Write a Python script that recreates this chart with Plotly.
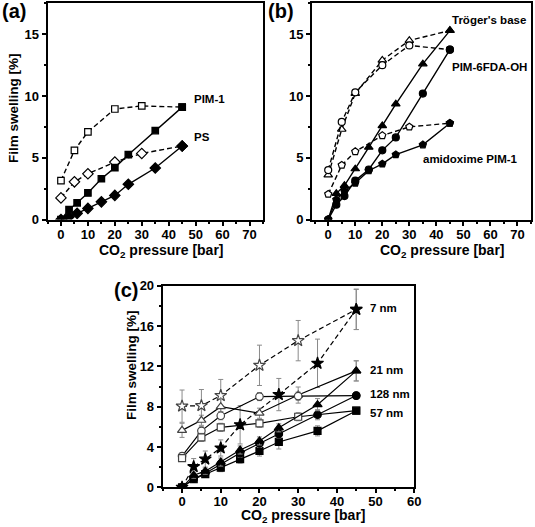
import plotly.graph_objects as go

# ---------------- data ----------------
# panel (a)
a_x_solid = [0, 3, 6, 10, 15, 20, 25, 35, 45]
a_pim1_solid = [0, 0.8, 1.35, 2.15, 3.3, 4.2, 5.25, 7.2, 9.1]
a_ps_solid = [0, 0.22, 0.5, 0.9, 1.43, 1.95, 2.85, 4.17, 5.95]
a_x_open = [0, 5, 10, 20, 30, 45]
a_pim1_open = [3.15, 5.6, 7.1, 8.95, 9.2, 9.1]
a_ps_open = [1.75, 3.05, 3.7, 4.65, 5.35, 5.95]

# panel (b)
b_x_solid = [0, 3, 6, 10, 15, 20, 25, 35, 45]
b_tb_solid = [0, 2.1, 2.75, 4.1, 5.85, 7.6, 9.35, 12.6, 15.3]
b_6fda_solid = [0, 1.2, 1.9, 3.15, 4.05, 5.6, 6.65, 10.2, 13.75]
b_amid_solid = [0, 1.6, 2.3, 2.95, 3.95, 4.5, 5.25, 6.05, 7.8]
b_x_open = [0, 5, 10, 20, 30, 45]
b_tb_open = [3.6, 7.3, 10.2, 12.9, 14.5, 15.3]
b_6fda_open = [4.0, 7.9, 10.3, 12.5, 14.1, 13.75]
b_amid_open = [2.05, 4.4, 5.5, 6.8, 7.5, 7.8]

# panel (c)
c_x_solid = [0, 3, 6, 10, 15, 20, 25, 35, 45]
c_x_open = [0, 5, 10, 20, 30, 45]
c_7_solid = [0, 2.05, 2.8, 3.9, 6.2, 9.2, 12.3, 17.65]
c_7_solid_x = [0, 3, 6, 10, 15, 25, 35, 45]
c_7_solid_err = [0, 0.8, 0.8, 0.8, 1.9, 1.6, 2.4, 2.0]
c_7_open = [8.05, 8.1, 9.1, 12.1, 14.55, 17.65]
c_7_open_err = [1.6, 1.6, 1.6, 2.0, 2.0, 2.0]
c_21_solid = [0, 1.2, 1.6, 2.5, 3.7, 4.6, 5.9, 8.2, 11.55]
c_21_solid_err = [0, 0.3, 0.3, 0.4, 0.4, 0.4, 0.4, 0.6, 1.0]
c_21_open = [5.65, 6.65, 8.0, 7.35, 9.15, 11.55]
c_21_open_err = [0.7, 0.5, 0.8, 0.5, 0.8, 1.0]
c_128_solid = [0, 0.85, 1.4, 2.3, 3.4, 4.35, 5.3, 7.2, 9.1]
c_128_solid_err = [0, 0.2, 0.3, 0.3, 0.4, 0.4, 0.4, 0.5, 0.3]
c_128_open = [3.1, 5.6, 7.1, 9.0, 9.05, 9.1]
c_128_open_err = [0.3, 0.4, 0.4, 0.4, 0.4, 0.3]
c_57_solid = [0, 0.8, 1.3, 1.95, 2.8, 3.6, 4.5, 5.6, 7.6]
c_57_solid_err = [0, 0.2, 0.3, 0.4, 0.4, 0.5, 0.7, 0.5, 0.3]
c_57_open = [2.9, 4.95, 5.95, 6.35, 7.0, 7.6]
c_57_open_err = [0.3, 0.4, 0.4, 0.4, 0.4, 0.3]

x_title = "CO<sub>2</sub> pressure [bar]"
y_title = "Film swelling [%]"

FONT = "Liberation Sans, Arial, sans-serif"
W, H = 535, 527

fig = go.Figure()


def add(x, y, symbol, filled, xa, ya, dashed=False, size=7, err=None,
        outline="black", lw=1.4):
    marker = dict(symbol=symbol, size=size,
                  color="black" if filled else "white",
                  line=dict(color=outline, width=1.2))
    kw = {}
    if err is not None:
        kw["error_y"] = dict(type="data", array=err, visible=True,
                             color="#8a8a8a", thickness=1, width=2.5)
    fig.add_trace(go.Scatter(
        x=x, y=y, mode="lines+markers", xaxis=xa, yaxis=ya,
        line=dict(color="black", width=lw, dash="5px,3px" if dashed else "solid"),
        marker=marker, showlegend=False, hoverinfo="skip", **kw))


# (a)
add(a_x_open, a_pim1_open, "square", False, "x", "y", dashed=True, size=6.5)
add(a_x_open, a_ps_open, "diamond", False, "x", "y", dashed=True, size=8)
add(a_x_solid, a_pim1_solid, "square", True, "x", "y", size=6.5)
add(a_x_solid, a_ps_solid, "diamond", True, "x", "y", size=8)

# (b)
add(b_x_open, b_tb_open, "triangle-up", False, "x2", "y2", dashed=True, size=7.5)
add(b_x_open, b_6fda_open, "circle", False, "x2", "y2", dashed=True, size=7)
add(b_x_open, b_amid_open, "pentagon", False, "x2", "y2", dashed=True, size=7.5)
add(b_x_solid, b_amid_solid, "pentagon", True, "x2", "y2", size=7.5)
add(b_x_solid, b_6fda_solid, "circle", True, "x2", "y2", size=7)
add(b_x_solid, b_tb_solid, "triangle-up", True, "x2", "y2", size=7.5)

# (c)
g = "#444444"
add(c_x_open, c_7_open, "star", False, "x3", "y3", dashed=True, size=9, err=c_7_open_err, outline=g, lw=1.2)
add(c_7_solid_x, c_7_solid, "star", True, "x3", "y3", dashed=True, size=9, err=c_7_solid_err, lw=1.2)
add(c_x_open, c_21_open, "triangle-up", False, "x3", "y3", size=8, err=c_21_open_err, outline=g, lw=1.2)
add(c_x_open, c_128_open, "circle", False, "x3", "y3", size=7.5, err=c_128_open_err, outline=g, lw=1.2)
add(c_x_open, c_57_open, "square", False, "x3", "y3", size=7, err=c_57_open_err, outline=g, lw=1.2)
add(c_x_solid, c_57_solid, "square", True, "x3", "y3", size=7, err=c_57_solid_err, lw=1.2)
add(c_x_solid, c_128_solid, "circle", True, "x3", "y3", size=7.5, err=c_128_solid_err, lw=1.2)
add(c_x_solid, c_21_solid, "triangle-up", True, "x3", "y3", size=8, err=c_21_solid_err, lw=1.2)


def dom(x0, x1, y0, y1):
    return [x0 / W, x1 / W], [1 - y1 / H, 1 - y0 / H]


ax_common = dict(showline=True, linecolor="black", linewidth=2, mirror=True,
                 ticks="outside", ticklen=4, tickwidth=1.5, tickcolor="black",
                 showgrid=False, zeroline=False, automargin=False,
                 tickfont=dict(family=FONT, size=13, color="black", weight="bold"))

xa_dom, ya_dom = dom(47.5, 263, 3.4, 219.5)
xb_dom, yb_dom = dom(312, 531, 3.4, 219.5)
xc_dom, yc_dom = dom(162.7, 414.3, 285.7, 487.3)


def minor(d):
    return dict(ticks="outside", dtick=d, ticklen=2, tickcolor="black")


fig.update_layout(
    width=W, height=H, autosize=False,
    margin=dict(l=0, r=0, t=0, b=0),
    paper_bgcolor="white", plot_bgcolor="white",
    xaxis=dict(domain=xa_dom, anchor="y", range=[-5, 75], dtick=10, tick0=0,
               minor=minor(5), ticklabelstandoff=-2, **ax_common),
    yaxis=dict(domain=ya_dom, anchor="x", range=[0, 17.5], dtick=5, tick0=0,
               minor=minor(2.5), **ax_common),
    xaxis2=dict(domain=xb_dom, anchor="y2", range=[-6, 75], dtick=10, tick0=0,
                minor=minor(5), ticklabelstandoff=-2, **ax_common),
    yaxis2=dict(domain=yb_dom, anchor="x2", range=[0, 17.5], dtick=5, tick0=0,
                minor=minor(2.5), **ax_common),
    xaxis3=dict(domain=xc_dom, anchor="y3", range=[-5, 60], dtick=10, tick0=0,
                minor=minor(5), ticklabelstandoff=-3, **ax_common),
    yaxis3=dict(domain=yc_dom, anchor="x3", range=[0, 20], dtick=4, tick0=0,
                minor=minor(2), **ax_common),
)

lab_font = dict(family=FONT, size=11.5, color="black", weight="bold")
panel_font = dict(family=FONT, size=20, color="black", weight="bold")
xt_font = dict(family=FONT, size=14, color="black", weight="bold")
yt_font = dict(family=FONT, size=13.5, color="black", weight="bold")


def note(text, x, y, font, xanchor="left", yanchor="middle", angle=0):
    fig.add_annotation(text=text, x=x / W, y=1 - y / H, xref="paper", yref="paper",
                       showarrow=False, font=font, xanchor=xanchor, yanchor=yanchor,
                       textangle=angle)


# axis titles
note(x_title, 161, 251, xt_font, xanchor="center")
note(x_title, 442, 251, xt_font, xanchor="center")
note(x_title, 303, 516, xt_font, xanchor="center")
note(y_title, 13, 108, yt_font, xanchor="center", angle=-90)
note(y_title, 131, 365, yt_font, xanchor="center", angle=-90)

# panel labels
note("(a)", 0, 11, panel_font)
note("(b)", 266, 11, panel_font)
note("(c)", 112, 290, panel_font)

# series labels
note("PIM-1", 192, 99, lab_font)
note("PS", 192, 137, lab_font)
note("Tröger's base", 450, 20, lab_font)
note("PIM-6FDA-OH", 450, 67, lab_font)
note("amidoxime PIM-1", 421, 159, lab_font)
note("7 nm", 368, 308, lab_font)
note("21 nm", 368, 370, lab_font)
note("128 nm", 368, 394, lab_font)
note("57 nm", 368, 413, lab_font)

fig.write_html("out.html", config={"displayModeBar": False},
               post_script="document.body.style.margin='0';document.body.style.overflow='hidden';")
